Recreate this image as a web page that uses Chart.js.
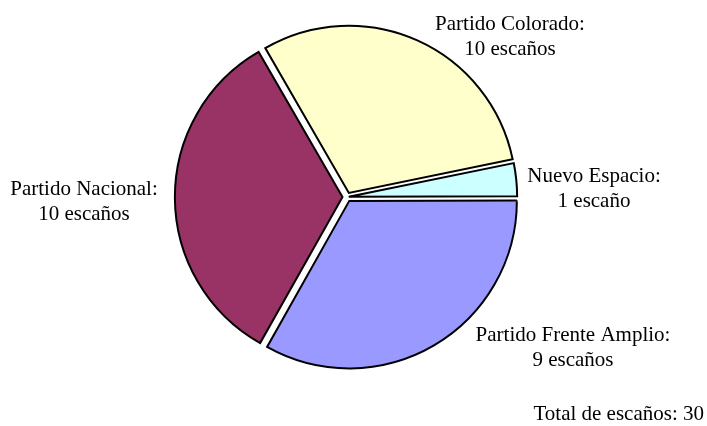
<!DOCTYPE html>
<html>
<head>
<meta charset="utf-8">
<script src="https://cdn.jsdelivr.net/npm/chart.js@4"></script>
<style>
  html, body { margin: 0; padding: 0; background: #ffffff; }
  #wrap { width: 707px; height: 426px; }
</style>
</head>
<body>
<div id="wrap"><canvas id="c" width="707" height="426"></canvas></div>
<script>
// Data
const parties = ['Partido Colorado', 'Nuevo Espacio', 'Partido Frente Amplio', 'Partido Nacional'];
const seats = [10, 1, 9, 10];
// slice sizes as drawn in the picture (percent of the pie, estimated from angles)
const sliceShare = [30.1, 3.2, 33.2, 33.5];
const colors = ['#FFFFCC', '#CCFFFF', '#9999FF', '#993366'];
const totalLabel = 'Total de escaños: ' + seats.reduce((a, b) => a + b, 0);

function seatText(n) { return n + (n === 1 ? ' escaño' : ' escaños'); }

const FONT = '21px "Liberation Serif", "Times New Roman", serif';
// label layout (centre x, first baseline y), second line 25px below
const labelPos = [
  [510, 30],
  [594, 182],
  [573, 341],
  [84, 195]
];

const labelPlugin = {
  id: 'labels',
  afterDraw(chart) {
    const ctx = chart.ctx;
    ctx.save();
    ctx.font = FONT;
    ctx.fillStyle = '#000000';
    ctx.textAlign = 'center';
    ctx.textBaseline = 'alphabetic';
    parties.forEach((p, i) => {
      const [x, y] = labelPos[i];
      ctx.fillText(p + ':', x, y);
      ctx.fillText(seatText(seats[i]), x, y + 25);
    });
    ctx.textAlign = 'right';
    ctx.fillText(totalLabel, 704, 420);
    ctx.restore();
  }
};

new Chart(document.getElementById('c'), {
  type: 'pie',
  data: {
    labels: parties,
    datasets: [{
      data: sliceShare,
      backgroundColor: colors,
      borderColor: '#000000',
      borderWidth: 2,
      borderJoinStyle: 'miter',
      offset: [18, 7, 18, 18]
    }]
  },
  options: {
    responsive: false,
    animation: false,
    rotation: -30,
    radius: 167,
    layout: { padding: { left: 0, right: 13, top: 0, bottom: 32 } },
    plugins: {
      legend: { display: false },
      tooltip: { enabled: false },
      title: { display: false }
    }
  },
  plugins: [labelPlugin]
});
</script>
</body>
</html>
